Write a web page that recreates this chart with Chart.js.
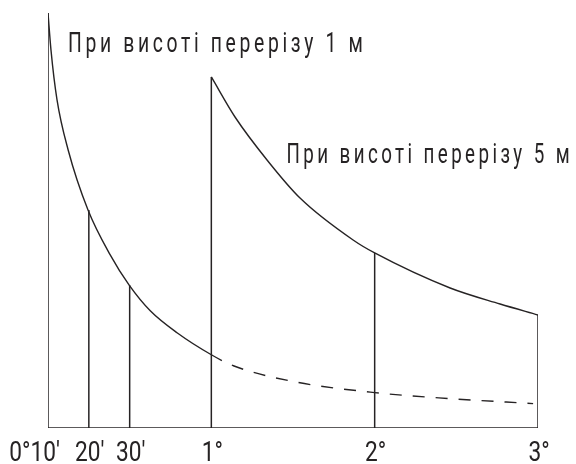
<!DOCTYPE html>
<html>
<head>
<meta charset="utf-8">
<script src="https://cdn.jsdelivr.net/npm/chart.js@4"></script>
<style>
  body { margin: 0; background: #fff; }
  canvas { display: block; }
</style>
</head>
<body>
<canvas id="slopeChart" width="576" height="464"></canvas>
<script>
// --- Data (x = position on the scale, y = lay length) ---
const tickPos = [0, 0.25, 0.5, 1, 2, 3];
const tickLabels = ["0°10'", "20'", "30'", "1°", "2°", "3°"];

// curve for 1 m contour interval (solid to 1°, dashed after)
const curve1X = [0, 0.018, 0.055, 0.123, 0.245, 0.38, 0.497, 0.626, 0.79, 1.0, 1.135, 1.485, 2.0, 2.47, 2.97];
const curve1Y = [340, 310, 269, 228, 178.6, 142, 117, 96, 78, 60, 51, 38.5, 29, 24, 20];

// curve for 5 m contour interval
const curve2X = [1.0, 1.145, 1.341, 1.543, 1.868, 2.0, 2.462, 2.768, 3.0];
const curve2Y = [287.6, 254.8, 219.6, 188.4, 154, 143.4, 114.7, 101.6, 92.6];

// heights of the vertical lines at each tick
const verticalTop = [340, 178.6, 117, 287.6, 143.4, 92.6];

const curveLabels = ["При висоті перерізу 1 м", "При висоті перерізу 5 м"];

const INK = "#262324";

// --- Build datasets ---
const toPoints = (xs, ys) => xs.map((x, i) => ({ x: x, y: ys[i] }));

const datasets = [];

// baseline
datasets.push({
  data: [{ x: tickPos[0], y: 0 }, { x: tickPos[tickPos.length - 1], y: 0 }],
  borderColor: INK, borderWidth: 1.6, pointRadius: 0
});

// vertical lines
tickPos.forEach((x, i) => {
  datasets.push({
    data: [{ x: x, y: 0 }, { x: x, y: verticalTop[i] }],
    borderColor: INK, borderWidth: 1.5, pointRadius: 0
  });
});

// 1 m curve
datasets.push({
  data: toPoints(curve1X, curve1Y),
  borderColor: INK, borderWidth: 1.4, pointRadius: 0,
  cubicInterpolationMode: "monotone",
  segment: {
    borderDash: ctx => ctx.p0.parsed.x >= 1 ? [12, 11] : undefined
  }
});

// 5 m curve
datasets.push({
  data: toPoints(curve2X, curve2Y),
  borderColor: INK, borderWidth: 1.4, pointRadius: 0,
  cubicInterpolationMode: "monotone"
});

// --- Text plugin: condensed labels drawn through the scales ---
const textPlugin = {
  id: "slopeText",
  afterDraw(chart) {
    const c = chart.ctx;
    const xs = chart.scales.x;
    const ys = chart.scales.y;

    function drawCondensed(text, px, py, font, spacing, sx, align) {
      c.save();
      c.font = font;
      c.letterSpacing = spacing;
      c.fillStyle = INK;
      c.textBaseline = "alphabetic";
      const w = c.measureText(text).width * sx;
      let left = px;
      if (align === "center") left = px - w / 2;
      if (align === "right") left = px - w;
      c.translate(left, py);
      c.scale(sx, 1);
      c.textAlign = "left";
      c.fillText(text, 0, 0);
      c.restore();
    }

    // tick labels
    tickPos.forEach((x, i) => {
      const px = xs.getPixelForValue(x);
      if (i === 0) {
        drawCondensed(tickLabels[i], px + 12, 461, "27px Roboto", "0px", 0.84, "right");
      } else {
        drawCondensed(tickLabels[i], px + 1, 461, "27px Roboto", "0px", 0.84, "center");
      }
    });

    // curve captions
    drawCondensed(curveLabels[0], xs.getPixelForValue(0.123), ys.getPixelForValue(308),
      "28px Roboto", "5.3px", 0.69, "left");
    drawCondensed(curveLabels[1], xs.getPixelForValue(1.46), ys.getPixelForValue(217),
      "28px Roboto", "5.1px", 0.67, "left");
  }
};

// --- Chart ---
const ctx = document.getElementById("slopeChart").getContext("2d");
new Chart(ctx, {
  type: "line",
  data: { datasets: datasets },
  options: {
    responsive: false,
    animation: false,
    layout: { padding: { left: 48, right: 38, top: 13, bottom: 36 } },
    plugins: {
      legend: { display: false },
      tooltip: { enabled: false }
    },
    scales: {
      x: { type: "linear", min: 0, max: 3, display: false },
      y: { type: "linear", min: 0, max: 340, display: false }
    }
  },
  plugins: [textPlugin]
});
</script>
</body>
</html>
